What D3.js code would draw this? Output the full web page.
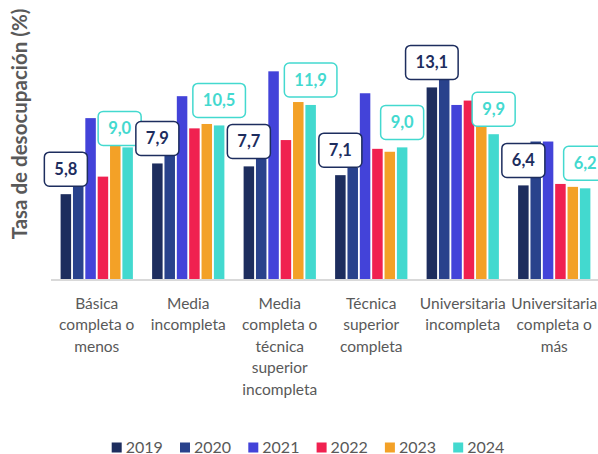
<!DOCTYPE html>
<html>
<head>
<meta charset="utf-8">
<script src="https://cdn.jsdelivr.net/npm/d3@7"></script>
<style>
  body { margin: 0; background: #fff; }
  svg { display: block; font-family: Lato, "Open Sans", sans-serif; }
</style>
</head>
<body>
<div id="chart"></div>
<script>
// data
var categories = [
  "Básica completa o menos",
  "Media incompleta",
  "Media completa o técnica superior incompleta",
  "Técnica superior completa",
  "Universitaria incompleta",
  "Universitaria completa o más"
];
// how each category label wraps
var categoryLines = [
  ["Básica", "completa o", "menos"],
  ["Media", "incompleta"],
  ["Media", "completa o", "técnica", "superior", "incompleta"],
  ["Técnica", "superior", "completa"],
  ["Universitaria", "incompleta"],
  ["Universitaria", "completa o", "más"]
];
var years = ["2019", "2020", "2021", "2022", "2023", "2024"];
var v2019 = [5.8, 7.9, 7.7, 7.1, 13.1, 6.4];
var v2020 = [6.9, 8.6, 8.3, 7.6, 13.9, 9.4];
var v2021 = [11.0, 12.5, 14.2, 12.7, 11.9, 9.4];
var v2022 = [7.0, 10.3, 9.5, 8.9, 12.2, 6.5];
var v2023 = [9.4, 10.6, 12.1, 8.7, 10.8, 6.3];
var v2024 = [9.0, 10.5, 11.9, 9.0, 9.9, 6.2];
var labelledYears = ["2019", "2024"];

var series = { "2019": v2019, "2020": v2020, "2021": v2021, "2022": v2022, "2023": v2023, "2024": v2024 };
var colors = { "2019": "#1d2d5e", "2020": "#29428c", "2021": "#4343d9",
               "2022": "#f02150", "2023": "#f3a127", "2024": "#43d9cf" };

var W = 598, H = 454;
var base = 279;

var x0 = d3.scaleBand().domain(categories).range([51, 600]).paddingInner(0.21).paddingOuter(0.105);
var x1 = d3.scaleBand().domain(years).range([0, x0.bandwidth()]).paddingInner(0.15);
var y = d3.scaleLinear().domain([0, 16]).range([base, 45]);

var fmt = function(v) { return d3.format(".1f")(v).replace(".", ","); };

var svg = d3.select("#chart").append("svg")
    .attr("width", W)
    .attr("height", H);

// y title
svg.append("text")
    .attr("transform", "translate(27,124) rotate(-90)")
    .attr("text-anchor", "middle")
    .attr("font-size", 20.5)
    .attr("font-weight", 700)
    .attr("fill", "#595959")
    .text("Tasa de desocupación (%)");

// bars
var groups = svg.append("g").selectAll("g")
    .data(categories)
    .enter().append("g")
    .attr("transform", function(c) { return "translate(" + x0(c) + ",0)"; });

groups.selectAll("rect")
    .data(function(c, i) { return years.map(function(yr) { return { year: yr, value: series[yr][i] }; }); })
    .enter().append("rect")
    .attr("x", function(d) { return x1(d.year); })
    .attr("width", x1.bandwidth())
    .attr("y", function(d) { return y(d.value); })
    .attr("height", function(d) { return base - y(d.value); })
    .attr("fill", function(d) { return colors[d.year]; });

// axis line
svg.append("line")
    .attr("x1", 51).attr("x2", W)
    .attr("y1", base + 1).attr("y2", base + 1)
    .attr("stroke", "#d9d9d9")
    .attr("stroke-width", 2);

// category labels
var catG = svg.append("g").selectAll("text")
    .data(categories)
    .enter().append("text")
    .attr("text-anchor", "middle")
    .attr("font-size", 15.5)
    .attr("fill", "#595959");

catG.each(function(c, i) {
  var t = d3.select(this);
  categoryLines[i].forEach(function(line, j) {
    t.append("tspan")
      .attr("x", x0(c) + x0.bandwidth() / 2)
      .attr("y", 308.5 + j * 21.6)
      .text(line);
  });
});

// data labels (boxes)
var labels = [];
labelledYears.forEach(function(yr) {
  categories.forEach(function(c, i) {
    labels.push({ year: yr, cat: c, i: i, value: series[yr][i] });
  });
});

var lblG = svg.append("g");
var boxes = [];
labels.forEach(function(d) {
  var g = lblG.append("g");
  var t = g.append("text")
      .attr("text-anchor", "middle")
      .attr("font-size", 16.5)
      .attr("font-weight", 700)
      .attr("fill", colors[d.year])
      .text(fmt(d.value));
  var tw = t.node().getComputedTextLength();
  var bw = tw + 20, bh = 34;
  var cx = x0(d.cat) + x1(d.year) + x1.bandwidth() / 2;
  var bottom = y(d.value) - 8;
  g.insert("rect", "text")
      .attr("rx", 5)
      .attr("fill", "#fff")
      .attr("stroke", colors[d.year])
      .attr("stroke-width", 1.5)
      .attr("width", bw).attr("height", bh);
  boxes.push({ d: d, g: g, t: t, cx: cx, bottom: bottom, bw: bw, bh: bh });
});

// push a 2024 box a bit aside when it runs into the next group's 2019 box
boxes.forEach(function(b) {
  if (b.d.year !== "2024") return;
  var next = boxes.find(function(o) { return o.d.year === "2019" && o.d.i === b.d.i + 1; });
  if (!next) return;
  var overlap = (b.cx + b.bw / 2) - (next.cx - next.bw / 2);
  var vOverlap = !(b.bottom < next.bottom - next.bh || next.bottom < b.bottom - b.bh);
  if (overlap > 0 && vOverlap) {
    b.cx -= Math.min(overlap, 8);
    b.bottom += 6;
  }
});

// draw 2024 first so 2019 boxes sit on top, like the original
boxes.sort(function(a, b) { return a.d.year === "2024" ? -1 : 1; });
boxes.forEach(function(b) {
  b.g.raise();
  b.g.select("rect").attr("x", b.cx - b.bw / 2).attr("y", b.bottom - b.bh);
  b.t.attr("x", b.cx).attr("y", b.bottom - b.bh / 2 + 6);
});

// legend
var leg = svg.append("g").selectAll("g")
    .data(years)
    .enter().append("g")
    .attr("transform", function(d, i) { return "translate(" + (111.7 + i * 68.3) + ",442.5)"; });

leg.append("rect")
    .attr("width", 10).attr("height", 10)
    .attr("fill", function(d) { return colors[d]; });

leg.append("text")
    .attr("x", 14).attr("y", 10)
    .attr("font-size", 16)
    .attr("fill", "#595959")
    .text(function(d) { return d; });
</script>
</body>
</html>
